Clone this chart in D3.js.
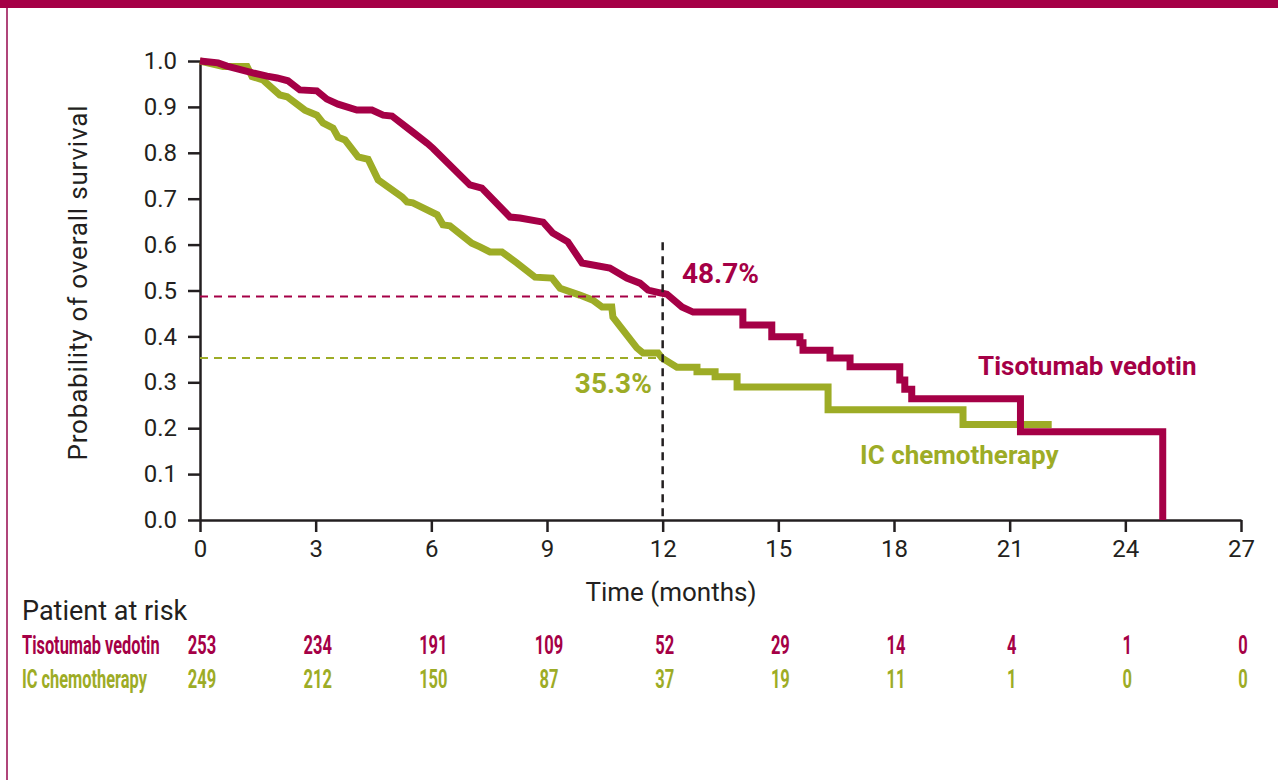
<!DOCTYPE html>
<html>
  <head>
    <meta charset="utf-8">
    <title>Overall survival</title>
    <script src="https://d3js.org/d3.v7.min.js"></script>
    <style>
      body { margin: 0; background: #fff; }
      svg { display: block; font-family: Roboto, "DejaVu Sans", sans-serif; }
      .axis .domain, .axis .tick line { stroke: #231f20; stroke-width: 2.5px; }
      .axis .tick text { font-size: 24px; fill: #231f20; font-family: Roboto, sans-serif; }
      .axis__label { font-size: 26px; fill: #231f20; }
      .note { font-size: 26px; font-weight: bold; }
      .pct { font-size: 28px; font-weight: bold; }
      .risk { font-size: 25px; font-weight: bold; }
    </style>
  </head>
  <body>
    <svg width="1278" height="780"></svg>
    <script>
      const magenta = "#a50046";
      const olive = "#9dac26";

      // Kaplan-Meier curves (time in months, survival probability)
      const tvTime = [0, 0.47, 0.70, 1.37, 1.74, 2.0, 2.28, 2.59, 3.03, 3.29, 3.58, 4.07, 4.46, 4.75, 4.98,
        5.52, 5.89, 6.04, 7.0, 7.31, 8.04, 8.30, 8.9, 9.15, 9.54, 9.91, 10.63, 11.07, 11.41, 11.62, 11.93,
        12.11, 12.5, 12.79, 14.08, 14.08, 14.83, 14.83, 15.56, 15.56, 15.64, 15.64, 16.34, 16.34, 16.86,
        16.86, 18.15, 18.15, 18.28, 18.28, 18.46, 18.46, 21.28, 21.28, 24.97, 24.97];
      const tvSurv = [1.0, 0.996, 0.989, 0.974, 0.967, 0.963, 0.957, 0.937, 0.935, 0.917, 0.906, 0.893, 0.893, 0.882, 0.880,
        0.845, 0.821, 0.810, 0.730, 0.723, 0.660, 0.658, 0.649, 0.625, 0.606, 0.560, 0.549, 0.527, 0.516, 0.501, 0.495,
        0.492, 0.464, 0.453, 0.453, 0.425, 0.425, 0.399, 0.399, 0.386, 0.386, 0.370, 0.370, 0.353, 0.353,
        0.334, 0.334, 0.305, 0.305, 0.285, 0.285, 0.264, 0.264, 0.192, 0.192, 0.0];

      const icTime = [0, 0.6, 1.22, 1.35, 1.63, 2.07, 2.26, 2.72, 3.03, 3.19, 3.45, 3.58, 3.76, 4.1, 4.36,
        4.62, 5.24, 5.37, 5.52, 6.15, 6.3, 6.48, 7.05, 7.26, 7.52, 7.83, 8.22, 8.69, 9.13, 9.34, 9.85,
        10.19, 10.43, 10.68, 10.71, 11.33, 11.49, 11.88, 11.98, 12.37, 12.89, 12.89, 13.36, 13.36, 13.93,
        13.93, 16.29, 16.29, 19.79, 19.79, 22.09];
      const icSurv = [1.0, 0.988, 0.988, 0.966, 0.959, 0.926, 0.922, 0.893, 0.882, 0.865, 0.854, 0.834, 0.828, 0.791, 0.786,
        0.741, 0.704, 0.693, 0.691, 0.665, 0.643, 0.641, 0.603, 0.595, 0.584, 0.584, 0.560, 0.529, 0.527, 0.505, 0.490,
        0.479, 0.464, 0.464, 0.442, 0.375, 0.364, 0.364, 0.353, 0.333, 0.333, 0.323, 0.323, 0.312, 0.312,
        0.290, 0.290, 0.240, 0.240, 0.208, 0.208];

      // number at risk
      const riskMonths = [0, 3, 6, 9, 12, 15, 18, 21, 24, 27];
      const tvAtRisk = [253, 234, 191, 109, 52, 29, 14, 4, 1, 0];
      const icAtRisk = [249, 212, 150, 87, 37, 19, 11, 1, 0, 0];

      const landmark = 12;
      const tvLandmark = 0.487;
      const icLandmark = 0.353;

      const svg = d3.select("svg");
      const width = +svg.attr("width");

      const xScale = d3.scaleLinear().domain([0, 27]).range([200, 1241]);
      const yScale = d3.scaleLinear().domain([0, 1]).range([520, 61]);

      // frame
      svg.append("rect").attr("x", 0).attr("y", 0).attr("width", width).attr("height", 8).attr("fill", magenta);
      svg.append("line").attr("x1", 7).attr("x2", 7).attr("y1", 8).attr("y2", 780)
        .attr("stroke", "#b0457a").attr("stroke-width", 2);

      const xAxis = d3.axisBottom(xScale).tickValues(riskMonths).tickSize(12).tickSizeOuter(0).tickPadding(8);
      const yAxis = d3.axisLeft(yScale).ticks(10).tickFormat(d3.format(".1f")).tickSize(12).tickSizeOuter(0).tickPadding(11);

      svg.append("g").attr("class", "axis")
        .attr("transform", `translate(0, ${yScale(0)})`)
        .call(xAxis);
      svg.append("g").attr("class", "axis")
        .attr("transform", `translate(${xScale(0)}, 0)`)
        .call(yAxis);

      svg.append("text").attr("class", "axis__label")
        .attr("x", 671).attr("y", 601).attr("text-anchor", "middle")
        .text("Time (months)");
      svg.append("text").attr("class", "axis__label")
        .attr("transform", "rotate(-90)")
        .attr("x", -283).attr("y", 87).attr("text-anchor", "middle")
        .attr("font-size", 25)
        .attr("textLength", 355).attr("lengthAdjust", "spacing")
        .text("Probability of overall survival");

      const line = d3.line().x(d => xScale(d[0])).y(d => yScale(d[1]));

      svg.append("path").datum(d3.zip(icTime, icSurv))
        .attr("fill", "none").attr("stroke", olive).attr("stroke-width", 7)
        .attr("stroke-linejoin", "miter").attr("d", line);
      svg.append("path").datum(d3.zip(tvTime, tvSurv))
        .attr("fill", "none").attr("stroke", magenta).attr("stroke-width", 7)
        .attr("stroke-linejoin", "miter").attr("d", line);

      // landmark guides
      svg.append("line")
        .attr("x1", xScale(0)).attr("x2", xScale(landmark))
        .attr("y1", yScale(tvLandmark)).attr("y2", yScale(tvLandmark))
        .attr("stroke", magenta).attr("stroke-width", 2).attr("stroke-dasharray", "8,6");
      svg.append("line")
        .attr("x1", xScale(0)).attr("x2", xScale(landmark))
        .attr("y1", yScale(icLandmark)).attr("y2", yScale(icLandmark))
        .attr("stroke", olive).attr("stroke-width", 2).attr("stroke-dasharray", "8,6");
      svg.append("line")
        .attr("x1", xScale(landmark)).attr("x2", xScale(landmark))
        .attr("y1", yScale(0.605)).attr("y2", yScale(0))
        .attr("stroke", "#231f20").attr("stroke-width", 2.5).attr("stroke-dasharray", "8,6");

      svg.append("text").attr("class", "pct").attr("fill", magenta)
        .attr("x", xScale(12.5)).attr("y", yScale(0.538)).attr("dy", "0.36em")
        .text("48.7%");
      svg.append("text").attr("class", "pct").attr("fill", olive)
        .attr("x", xScale(11.72)).attr("y", yScale(0.298)).attr("dy", "0.36em").attr("text-anchor", "end")
        .text("35.3%");
      svg.append("text").attr("class", "note").attr("fill", magenta)
        .attr("x", xScale(20.18)).attr("y", yScale(0.336)).attr("dy", "0.36em")
        .text("Tisotumab vedotin");
      svg.append("text").attr("class", "note").attr("fill", olive)
        .attr("x", xScale(17.12)).attr("y", yScale(0.142)).attr("dy", "0.36em")
        .text("IC chemotherapy");

      // patients at risk table
      svg.append("text").attr("x", 22).attr("y", 620)
        .attr("font-size", 27).attr("fill", "#231f20")
        .text("Patient at risk");

      const rows = [
        {label: "Tisotumab vedotin", values: tvAtRisk, color: magenta, y: 654},
        {label: "IC chemotherapy", values: icAtRisk, color: olive, y: 688}
      ];
      const squeeze = 0.66;
      rows.forEach(row => {
        const g = svg.append("g").attr("fill", row.color);
        g.append("text").attr("class", "risk")
          .attr("transform", `translate(22, ${row.y}) scale(0.655, 1)`)
          .text(row.label);
        g.selectAll(".num").data(row.values).enter().append("text")
          .attr("class", "risk num")
          .attr("text-anchor", "middle")
          .attr("transform", (d, i) => `translate(${xScale(riskMonths[i]) + 2}, ${row.y}) scale(${squeeze}, 1)`)
          .text(d => d);
      });
    </script>
  </body>
</html>
